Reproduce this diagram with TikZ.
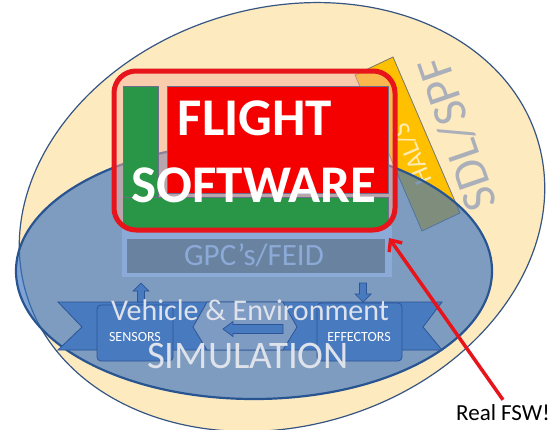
\documentclass[tikz,border=0pt]{standalone}
\usepackage{fontspec}
\setmainfont{Carlito}
\usetikzlibrary{arrows.meta}

\definecolor{eggshell}{RGB}{253,235,191}
\definecolor{rimblue}{RGB}{55,85,130}
\definecolor{ellblue}{RGB}{59,115,192}
\definecolor{ellrim}{RGB}{40,85,145}
\definecolor{bandorange}{RGB}{255,192,0}
\definecolor{bandrim}{RGB}{120,120,110}
\definecolor{peach}{RGB}{245,175,155}
\definecolor{fsgreen}{RGB}{40,150,70}
\definecolor{fsred}{RGB}{245,0,0}
\definecolor{fsgray}{RGB}{110,110,140}
\definecolor{framered}{RGB}{232,20,28}
\definecolor{gpcouter}{RGB}{140,170,215}
\definecolor{gpcinner}{RGB}{104,130,160}
\definecolor{ribbon}{RGB}{72,122,192}
\definecolor{ribbonrim}{RGB}{45,85,150}
\definecolor{midhex}{RGB}{125,155,195}
\definecolor{simtext}{RGB}{222,226,235}
\definecolor{sdlgray}{RGB}{170,175,185}
\definecolor{hallight}{RGB}{255,236,180}

\begin{document}
\begin{tikzpicture}[x=1pt,y=-1pt,
  txt/.style={inner sep=0pt, anchor=base},
  blockarrow/.style={fill=ribbon, draw=ribbonrim, line width=0.7pt},
  unitbox/.style={fill=ribbon, draw=ribbonrim, line width=0.8pt, rounded corners=4pt},
  innerrect/.style={draw=fsgray, line width=0.8pt}]

\useasboundingbox (0,0) rectangle (553,429);
\fill[white] (0,0) rectangle (553,429);

% outer SDL/SPF ellipse
\draw[fill=eggshell, draw=rimblue, line width=1.2pt, rotate around={16.7:(282,217)}]
  (282,217) ellipse [x radius=267pt, y radius=209pt];
\node[rotate=109, text=sdlgray, inner sep=0pt, font=\fontsize{48}{48}\selectfont] (sdl) at (457,134) {SDL/SPF};

% HAL/S band
\draw[fill=bandorange, draw=bandrim, line width=0.8pt] (355,75) -- (393,57) -- (460,213) -- (422,231) -- cycle;
\node[rotate=113, text=hallight, inner sep=0pt, font=\fontsize{26}{26}\selectfont] (hal) at (412,154) {HAL/S};

% simulation ellipse
\draw[fill=ellblue, fill opacity=0.65, draw=ellrim, line width=2.2pt]
  (254,271) ellipse [x radius=238pt, y radius=128pt];

% GPC's/FEID box
\fill[gpcouter] (122,226) rectangle (392,277);
\fill[gpcinner] (127,239) rectangle (385,273);
\node[txt, text=gpcouter, font=\fontsize{31}{31}\selectfont] (gpc) at (254,265) {GPC’s/FEID};

% ribbon with sensors and effectors
\draw[fill=ribbon, draw=ribbonrim, line width=0.8pt]
  (58,302) -- (442,302) -- (423,327) -- (442,350) -- (58,350) -- (82,327) -- cycle;
\draw[fill=midhex, draw=ribbonrim, line width=0.8pt]
  (207,302) -- (283,302) -- (297,327) -- (283,350) -- (207,350) -- (193,327) -- cycle;
\draw[unitbox] (97,305) rectangle (173,361);
\draw[unitbox] (317,303) rectangle (402,361);
\node[txt, text=white, font=\fontsize{14}{14}\selectfont] (sensors) at (135,341) {SENSORS};
\node[txt, text=white, font=\fontsize{14}{14}\selectfont] (effectors) at (359,341) {EFFECTORS};

% data flow arrows
\draw[blockarrow] (141,283) -- (149,291) -- (144.5,291) -- (144.5,302) -- (137.5,302) -- (137.5,291) -- (133,291) -- cycle;
\draw[blockarrow] (363,302) -- (371,294) -- (366.5,294) -- (366.5,283) -- (359.5,283) -- (359.5,294) -- (355,294) -- cycle;
\draw[blockarrow] (223,329) -- (233,321.5) -- (233,324.5) -- (283,324.5) -- (283,333.5) -- (233,333.5) -- (233,336.5) -- cycle;

\node[txt, text=simtext, font=\fontsize{30}{30}\selectfont] (vehicle) at (250,320) {Vehicle \& Environment};
\node[txt, text=simtext, font=\fontsize{39}{39}\selectfont] (simulation) at (248,368) {SIMULATION};

% flight software block
\fill[peach, fill opacity=0.5, rounded corners=22pt] (114,71) rectangle (395,230);
\begin{scope}
  \clip[rounded corners=22pt] (114,71) rectangle (395,230);
  \fill[fsgreen] (123,197) rectangle (388,236);
  \draw[innerrect] (123,197) -- (388,197) -- (388,236);
  \draw[innerrect, fill=fsgreen] (123,86) rectangle (158,197);
  \draw[innerrect, fill=fsred] (167,86) rectangle (388,193);
\end{scope}
\node[draw=framered, line width=5pt, rounded corners=22pt, minimum width=281pt, minimum height=159pt, inner sep=0pt] (fsbox) at (254.5,150.5) {};
\node[txt, text=white, font=\bfseries\fontsize{53}{53}\selectfont] (flight) at (255,135) {FLIGHT};
\node[txt, text=white, font=\bfseries\fontsize{53}{53}\selectfont] (software) at (254,202) {SOFTWARE};

% pointer to the real flight software
\node[txt, text=black, font=\fontsize{23}{23}\selectfont] (realfsw) at (503,420) {Real FSW!};
\coordinate (tip) at (389,238);
\draw[framered, line width=3.5pt, -{Straight Barb[length=9pt, width=16pt]}] (realfsw.north) ++(0,-4) -- (tip);

\end{tikzpicture}
\end{document}
